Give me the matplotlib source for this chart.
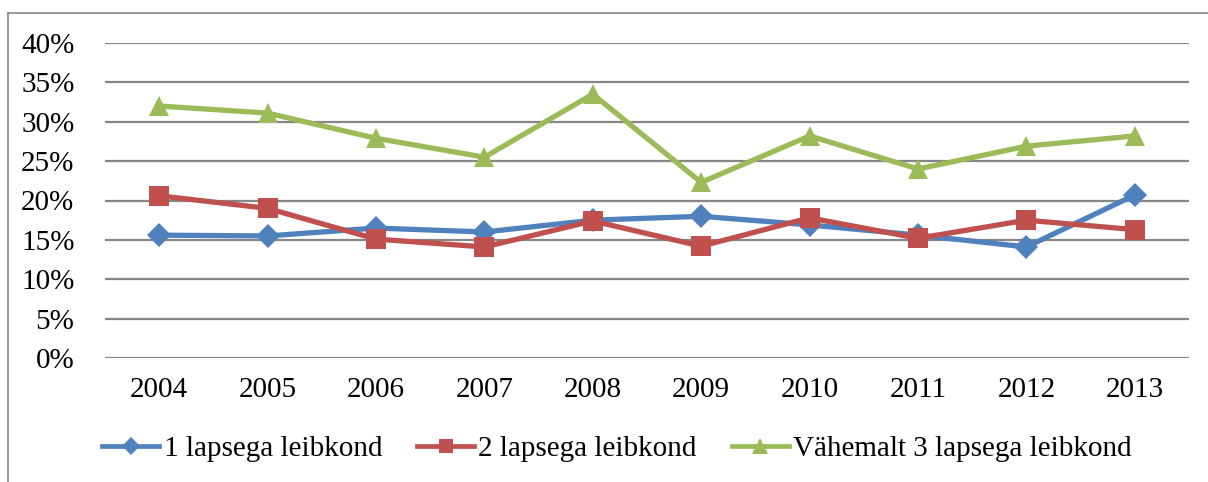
import matplotlib
matplotlib.use("Agg")
import matplotlib.pyplot as plt
from matplotlib.lines import Line2D

years = ["2004", "2005", "2006", "2007", "2008", "2009", "2010", "2011", "2012", "2013"]
one_child = [15.6, 15.5, 16.5, 16.0, 17.5, 18.0, 16.9, 15.6, 14.1, 20.7]
two_children = [20.6, 19.0, 15.1, 14.1, 17.4, 14.2, 17.8, 15.2, 17.5, 16.3]
three_plus = [32.0, 31.1, 27.9, 25.5, 33.5, 22.3, 28.2, 24.0, 26.9, 28.2]
series_names = ["1 lapsega leibkond", "2 lapsega leibkond", "Vähemalt 3 lapsega leibkond"]
y_ticks = [0, 5, 10, 15, 20, 25, 30, 35, 40]
y_tick_labels = ["0%", "5%", "10%", "15%", "20%", "25%", "30%", "35%", "40%"]

plt.rcParams['font.family'] = ['Liberation Serif', 'DejaVu Serif']

W, H = 1208, 482
fig = plt.figure(figsize=(W / 100, H / 100), dpi=100)
fig.patch.set_facecolor("white")

# outer chart border (left and top visible)
fig.add_artist(Line2D([8 / W, 8 / W], [0, 1 - 13 / H], transform=fig.transFigure,
                      color="#868686", lw=1.2))
fig.add_artist(Line2D([8 / W, 1], [1 - 13 / H, 1 - 13 / H], transform=fig.transFigure,
                      color="#868686", lw=1.2))

left, right, top, bottom = 105, 1189, 43, 358
ax = fig.add_axes([left / W, 1 - bottom / H, (right - left) / W, (bottom - top) / H])

x = list(range(len(years)))
colors = ["#4F81BD", "#C0504D", "#9BBB59"]
markers = ["D", "s", "^"]
msizes = [12.5, 14, 14.5]
data = [one_child, two_children, three_plus]
for vals, c, m, ms, name in zip(data, colors, markers, msizes, series_names):
    ax.plot(x, vals, color=c, lw=3.8, marker=m, markersize=ms, label=name,
            markeredgewidth=0, zorder=3)

ax.set_xlim(-0.5, len(years) - 0.5)
ax.set_ylim(0, 40)
ax.set_yticks(y_ticks)
ax.set_yticklabels(y_tick_labels)
ax.set_xticks(x)
ax.set_xticklabels(years)
ax.tick_params(axis="y", length=0, pad=22, labelsize=21)
ax.tick_params(axis="x", length=0, pad=14, labelsize=21)
for s in ax.spines.values():
    s.set_visible(False)
ax.grid(axis="y", color="#868686", lw=1.6, zorder=0)
ax.set_axisbelow(True)

leg = fig.legend(loc="center", bbox_to_anchor=(617 / W, 1 - 449 / H), ncol=3,
                 frameon=False, fontsize=21, handlelength=1.95, handletextpad=0.15,
                 columnspacing=1.2, markerscale=0.75, borderaxespad=0)
for lh in leg.get_lines():
    lh.set_linewidth(3.4)

fig.savefig("out.png", dpi=100, facecolor="white")
